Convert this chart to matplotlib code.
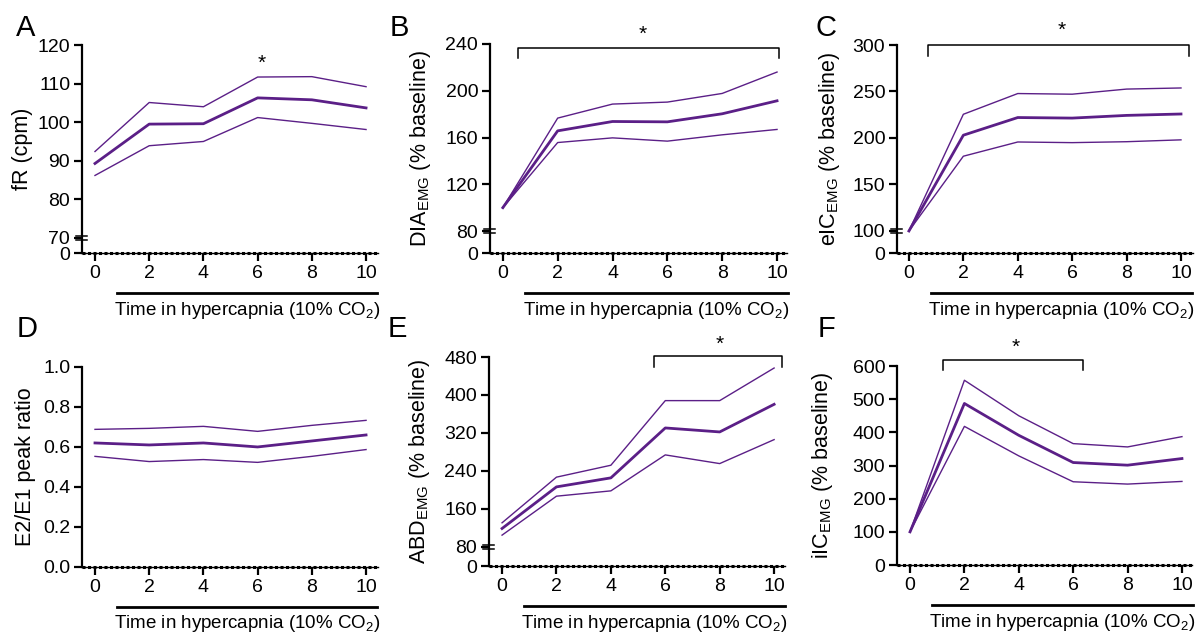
import numpy as np
import matplotlib
matplotlib.use("Agg")
import matplotlib.pyplot as plt
import matplotlib.transforms as mtransforms

plt.rcParams['font.family'] = ['Liberation Sans', 'DejaVu Sans']
plt.rcParams['mathtext.fontset'] = 'custom'
plt.rcParams['mathtext.rm'] = 'Liberation Sans'
plt.rcParams['mathtext.it'] = 'Liberation Sans'

# time in hypercapnia (min)
tiempo = [0, 2, 4, 6, 8, 10]

# A - frequencia respiratoria
fr_media = [89.3, 99.5, 99.6, 106.3, 105.8, 103.7]
fr_sup = [92.4, 105.1, 104.0, 111.7, 111.8, 109.2]
fr_inf = [86.2, 93.9, 95.0, 101.2, 99.7, 98.1]

# B - DIA EMG
dia_media = [100, 165.7, 173.7, 173.4, 180.3, 191.4]
dia_sup = [100, 176.6, 188.6, 190.3, 197.7, 216.0]
dia_inf = [100, 155.7, 159.7, 156.9, 162.3, 166.9]

# C - eIC EMG
eic_media = [100, 203.0, 222.0, 221.4, 224.3, 225.8]
eic_sup = [100, 225.5, 247.8, 247.1, 252.6, 253.8]
eic_inf = [100, 180.4, 195.7, 195.0, 196.0, 198.0]

# D - E2/E1
e2e1_media = [0.620, 0.610, 0.620, 0.600, 0.630, 0.660]
e2e1_sup = [0.688, 0.693, 0.703, 0.678, 0.708, 0.733]
e2e1_inf = [0.553, 0.527, 0.537, 0.523, 0.553, 0.587]

# E - ABD EMG
abd_media = [118.6, 206.3, 225.3, 330.5, 322.1, 380.3]
abd_sup = [130.6, 226.8, 251.9, 388.1, 388.1, 456.8]
abd_inf = [104.6, 186.7, 197.9, 273.7, 255.4, 305.9]

# F - iIC EMG
iic_media = [100, 487, 391, 309, 301, 321]
iic_sup = [100, 557, 450, 366, 356, 387]
iic_inf = [100, 418, 329, 251, 244, 252]

roxo = '#5b1f87'

fig = plt.figure(figsize=(11.95, 6.33), dpi=100)

paineis = [
    # letra, pos, media, sup, inf, ylim, ticks, labels, quebra, ylabel, ylab_x, xlim, pos letra
    ('A', [0.0686, 0.6003, 0.2477, 0.3286], fr_media, fr_sup, fr_inf,
     (66.1, 120), [66.1, 70, 80, 90, 100, 110, 120], ['0', '70', '80', '90', '100', '110', '120'],
     70, 'fR (cpm)', -0.166, (-0.48, 10.44), (26, 28.5)),
    ('B', [0.4100, 0.6003, 0.2485, 0.3302], dia_media, dia_sup, dia_inf,
     (61.2, 240), [61.2, 80, 120, 160, 200, 240], ['0', '80', '120', '160', '200', '240'],
     80, r'DIA$_{\mathrm{EMG}}$ (% baseline)', -0.192, (-0.47, 10.36), (399, 28.5)),
    ('C', [0.7506, 0.6003, 0.2477, 0.3286], eic_media, eic_sup, eic_inf,
     (76.3, 300), [76.3, 100, 150, 200, 250, 300], ['0', '100', '150', '200', '250', '300'],
     100, r'eIC$_{\mathrm{EMG}}$ (% baseline)', -0.186, (-0.44, 10.44), (826, 28.5)),
    ('D', [0.0686, 0.1043, 0.2477, 0.3160], e2e1_media, e2e1_sup, e2e1_inf,
     (0, 1.0), [0, 0.2, 0.4, 0.6, 0.8, 1.0], ['0.0', '0.2', '0.4', '0.6', '0.8', '1.0'],
     None, 'E2/E1 peak ratio', -0.155, (-0.48, 10.44), (27, 329)),
    ('E', [0.4092, 0.1058, 0.2477, 0.3302], abd_media, abd_sup, abd_inf,
     (39.5, 480), [39.5, 80, 160, 240, 320, 400, 480], ['0', '80', '160', '240', '320', '400', '480'],
     80, r'ABD$_{\mathrm{EMG}}$ (% baseline)', -0.193, (-0.48, 10.4), (397, 329)),
    ('F', [0.7506, 0.1074, 0.2469, 0.3144], iic_media, iic_sup, iic_inf,
     (0, 600), [0, 100, 200, 300, 400, 500, 600], ['0', '100', '200', '300', '400', '500', '600'],
     None, r'iIC$_{\mathrm{EMG}}$ (% baseline)', -0.21, (-0.48, 10.37), (826, 329)),
]

eixos = {}
for letra, pos, med, sup, inf, ylim, yt, ytl, quebra, ylab, ylx, xlim, lpos in paineis:
    ax = fig.add_axes(pos)
    eixos[letra] = ax
    ax.plot(tiempo, sup, color=roxo, lw=1.0)
    ax.plot(tiempo, inf, color=roxo, lw=1.0)
    ax.plot(tiempo, med, color=roxo, lw=2.0)
    ax.set_xlim(*xlim)
    ax.set_ylim(*ylim)
    ax.set_xticks(tiempo)
    ax.set_yticks(yt)
    ax.set_yticklabels(ytl)
    ax.spines['top'].set_visible(False)
    ax.spines['right'].set_visible(False)
    ax.spines['left'].set_linewidth(1.6)
    ax.spines['bottom'].set_linewidth(1.0)
    ax.tick_params(axis='both', labelsize=14, width=1.6, length=6, pad=2.5, color='black')
    # eixo x com aparencia tracejada
    ax.axhline(ylim[0], color='black', lw=2.2, ls=(0, (1, 0.8)), clip_on=False, zorder=3)
    ax.set_ylabel(ylab, fontsize=15.5)
    ax.yaxis.set_label_coords(ylx, 0.5)
    # quebra do eixo y
    if quebra is not None:
        tr = mtransforms.blended_transform_factory(ax.transAxes, ax.transData)
        dy = (ylim[1] - ylim[0]) * 0.0085
        for d in (-dy, dy):
            ax.plot([-0.02, 0.018], [quebra + d, quebra + d], color='black', lw=1.1,
                    transform=tr, clip_on=False)
    # barra e legenda do tempo
    trx = mtransforms.blended_transform_factory(ax.transData, ax.transAxes)
    tr_barra = mtransforms.offset_copy(trx, fig=fig, x=0, y=-40, units='dots')
    ax.plot([0.8, 10.4], [0, 0], color='black', lw=2.0, transform=tr_barra, clip_on=False)
    ax.annotate(r'Time in hypercapnia (10% CO$_2$)', xy=(5.6, 0),
                xycoords=trx, xytext=(0, -57), textcoords='offset pixels',
                ha='center', va='center', fontsize=13.5)
    fig.text(lpos[0] / 1195, 1 - lpos[1] / 633, letra, fontsize=21,
             ha='center', va='center')


def colchete(ax, x0, x1, y, y_desce, y_estrela, x_estrela):
    ax.plot([x0, x0, x1, x1], [y_desce, y, y, y_desce], color='black', lw=1.1,
            clip_on=False)
    ax.text(x_estrela, y_estrela, '*', fontsize=15, ha='center', va='center')


eixos['A'].text(6.16, 115.3, '*', fontsize=15, ha='center', va='center')
colchete(eixos['B'], 0.55, 10.07, 236.6, 228, 248, 5.1)
colchete(eixos['C'], 0.7, 10.3, 300, 288, 316, 5.6)
colchete(eixos['E'], 5.59, 10.3, 482, 459, 506, 8.0)
colchete(eixos['F'], 1.21, 6.36, 618, 588, 655, 3.9)

fig.savefig('out.png', dpi=100)
